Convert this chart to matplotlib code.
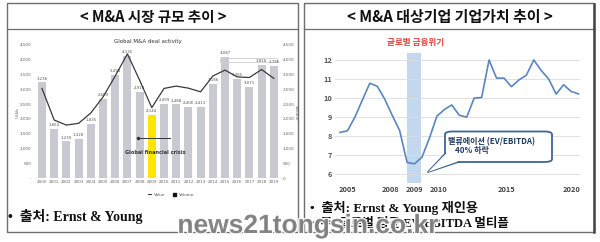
import numpy as np
import matplotlib
matplotlib.use("Agg")
import matplotlib.pyplot as plt
from matplotlib.patches import Rectangle, FancyBboxPatch, Polygon, Patch
from matplotlib.lines import Line2D
import matplotlib.patheffects as pe

# ---- left panel: global M&A deal activity (bars = value, line = volume) ----
years_l = list(range(2000, 2020))
deal_value = [3236, 1664, 1239, 1328, 1835, 2689, 3498, 4135, 2918, 2144,
              2499, 2488, 2406, 2413, 3186, 4087, 3365, 3071, 3826, 3786]
deal_volume = [3030, 1960, 1790, 1850, 2200, 2740, 3450, 4200, 3310, 2380,
               3030, 3110, 3040, 2915, 3450, 3650, 3420, 3400, 3670, 3370]
crisis_year = 2009
yticks_l = [0, 500, 1000, 1500, 2000, 2500, 3000, 3500, 4000, 4500]

# ---- right panel: EV/EBITDA multiple (semi-annual points) ----
ev_ebitda = [8.2, 8.28, 9.0, 9.9, 10.78, 10.62, 9.95, 9.1, 8.3, 6.62,
             6.55, 6.9, 7.9, 9.05, 9.4, 9.64, 9.1, 9.0, 10.0, 10.03,
             12.0, 11.05, 11.05, 10.6, 10.95, 11.2, 12.0, 11.45, 11.0, 10.21,
             10.7, 10.35, 10.22]
xtick_pos_r = [1.07, 6.71, 9.93, 13.15, 22.4, 31.1]
xtick_lab_r = ["2005", "2008", "2009", "2010", "2015", "2020"]
crisis_span = (8.95, 10.83)
yticks_r = [6, 7, 8, 9, 10, 11, 12]

W, H = 600, 242
KR = ["Noto Sans CJK KR", "DejaVu Sans"]
SERIF_KR = ["Liberation Serif", "Noto Sans CJK KR"]


def rect(x0, y0, x1, y1):
    return [x0 / W, 1 - y1 / H, (x1 - x0) / W, (y1 - y0) / H]


def fp(x, y):
    return (x / W, 1 - y / H)


fig = plt.figure(figsize=(6.0, 2.42), dpi=100)
fig.patch.set_facecolor("white")

# panel frames
for x0, x1 in [(7, 298), (304, 594)]:
    fig.patches.append(Rectangle(fp(x0, 232), (x1 - x0) / W, (232 - 3) / H,
                                 transform=fig.transFigure, fill=False,
                                 ec="#6e6e6e", lw=1.0))
    fig.add_artist(Line2D([x0 / W, x1 / W], [1 - 29 / H] * 2, color="#6e6e6e", lw=0.9))
fig.add_artist(Line2D([594 / W] * 2, [1 - 4 / H, 1 - 232 / H], color="#444444", lw=1.8))

fig.text(*fp(153, 17), "< M&A 시장 규모 추이 >", family=KR, fontsize=10.5,
         fontweight="bold", ha="center", va="center", color="#111111")
fig.text(*fp(450, 17), "< M&A 대상기업 기업가치 추이 >", family=KR, fontsize=10.8,
         fontweight="bold", ha="center", va="center", color="#111111")

# ---------------- left chart ----------------
ax = fig.add_axes(rect(33.5, 45, 281, 178))
x = np.arange(len(years_l))
cols = ["#ffe600" if y == crisis_year else "#c9c9d1" for y in years_l]
ax.bar(x, deal_value, width=0.66, color=cols, zorder=1)
for xi, v in zip(x, deal_value):
    ax.text(xi, v + 60, f"{v:,}", ha="center", va="bottom", fontsize=2.8, color="#555555")
ax.set_xlim(-0.697, 19.59)
ax.set_ylim(0, 4500)
ax.set_xticks(x)
ax.set_xticklabels([str(y) for y in years_l], fontsize=3.0, color="#666666")
ax.set_yticks(yticks_l)
ax.set_yticklabels(["-" if v == 0 else f"{v:,}" for v in yticks_l], fontsize=3.0, color="#666666")
ax.tick_params(length=0, pad=1.5)
for s in ax.spines.values():
    s.set_visible(False)
ax2 = ax.twinx()
ax2.plot(x, deal_volume, color="#3a3a3a", lw=0.9, zorder=3)
ax2.set_ylim(0, 4500)
ax2.set_yticks(yticks_l)
ax2.set_yticklabels([f"{v:,}" for v in yticks_l], fontsize=3.0, color="#666666")
ax2.tick_params(length=0, pad=1.5)
for s in ax2.spines.values():
    s.set_visible(False)
ax.add_patch(Rectangle((14.6, 3915), 4.7, 155, fill=False, ec="#d0d0d0", lw=0.6))

fig.text(*fp(148, 41), "Global M&A deal activity", fontsize=4.0, color="#333333",
         ha="center", va="center")
fig.text(*fp(17, 113), "US$b", fontsize=3.0, color="#666666", rotation=90,
         ha="center", va="center")
fig.text(*fp(296, 113), "Volume", fontsize=3.0, color="#666666", rotation=270,
         ha="center", va="center")
fig.text(*fp(155, 152), "Global financial crisis", fontsize=3.6, color="#333333",
         ha="center", va="center", fontweight="bold")
fig.add_artist(Line2D([138 / W, 170 / W], [1 - 138 / H] * 2, color="#333333", lw=0.7,
                      marker="o", markevery=[0], markersize=1.5))
fig.legend(handles=[Line2D([], [], color="#3a3a3a", lw=0.8),
                    Patch(color="#111111")],
           labels=["Value", "Volume"], loc="center", bbox_to_anchor=fp(171, 195),
           ncol=2, frameon=False, fontsize=3.0, handlelength=0.8, handleheight=0.8,
           columnspacing=2.0, handletextpad=0.6, labelcolor="#555555")

fig.text(*fp(8, 216), "•  출처: Ernst & Young", family=SERIF_KR, fontsize=10,
         fontweight="bold", ha="left", va="center", color="#111111")

# ---------------- right chart ----------------
axr = fig.add_axes(rect(335, 53, 580, 183))
xr = np.arange(len(ev_ebitda))
axr.axvspan(*crisis_span, color="#bdd4ee", alpha=0.9, lw=0, zorder=0)
axr.plot(xr, ev_ebitda, color="#5a86bf", lw=1.2, zorder=3)
axr.set_xlim(-0.671, 32.2)
axr.set_ylim(5.543, 12.367)
axr.set_yticks(yticks_r)
axr.set_yticklabels([str(v) for v in yticks_r], family=KR, fontsize=5.3,
                    fontweight="bold", color="#555555")
axr.set_xticks(xtick_pos_r)
axr.set_xticklabels(xtick_lab_r, family=KR, fontsize=5.3, fontweight="bold", color="#444444")
axr.tick_params(length=0, pad=2)
axr.yaxis.grid(True, color="#dcdcdc", lw=0.6)
axr.set_axisbelow(True)
for s in axr.spines.values():
    s.set_visible(False)

fig.text(*fp(416, 43), "글로벌 금융위기", family=KR, fontsize=6.2, fontweight="bold",
         color="#e5423c", ha="center", va="center")

# callout
box = FancyBboxPatch(fp(445, 162), (552 - 445) / W, (162 - 131.5) / H,
                     boxstyle="round,pad=0,rounding_size=0.012",
                     transform=fig.transFigure, fc="white", ec="#3d6694", lw=1.3, zorder=5)
fig.patches.append(box)
tail = Polygon([fp(445.6, 154), fp(428, 172), fp(458, 161.4)], closed=True,
               transform=fig.transFigure, fc="white", ec="none", zorder=6)
fig.patches.append(tail)
fig.add_artist(Line2D([445 / W, 428 / W, 458 / W], [1 - 154 / H, 1 - 172 / H, 1 - 162 / H],
                      color="#3d6694", lw=1.3, zorder=6))
fig.text(*fp(448, 141.5), "밸류에이션 (EV/EBITDA)", family=KR, fontsize=5.8,
         fontweight="bold", color="#1f3a5f", ha="left", va="center", zorder=7)
fig.text(*fp(455, 150.5), "40% 하락", family=KR, fontsize=5.8,
         fontweight="bold", color="#1f3a5f", ha="left", va="center", zorder=7)

fig.text(*fp(310, 208), "•  출처: Ernst & Young 재인용", family=SERIF_KR, fontsize=9.5,
         fontweight="bold", ha="left", va="center", color="#111111")
fig.text(*fp(310, 224), "•  주: 글로벌 평균 EV/EBITDA 멀티플", family=SERIF_KR, fontsize=9.0,
         fontweight="bold", ha="left", va="center", color="#111111")

# watermark
fig.text(*fp(308, 226), "news21tongsin.co.kr", family=["Liberation Sans", "DejaVu Sans"],
         fontsize=19, fontweight="bold", color="#7a7a7a", alpha=0.9, ha="center",
         va="center", zorder=10,
         path_effects=[pe.withStroke(linewidth=2.0, foreground="white")])

fig.savefig("out.png", dpi=100)
